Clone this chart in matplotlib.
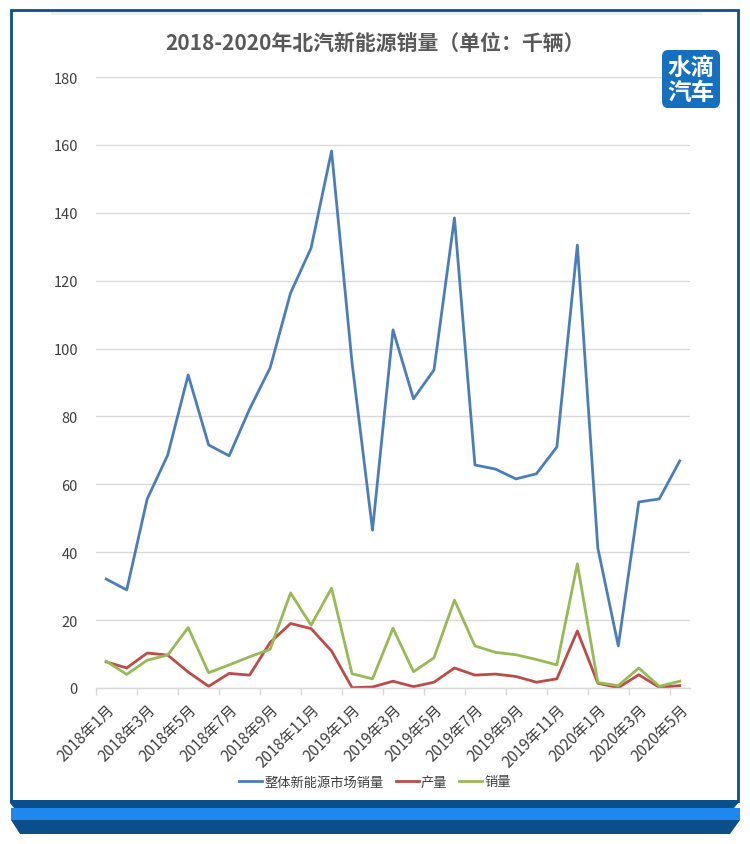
import matplotlib.pyplot as plt
from matplotlib.patches import Polygon, FancyBboxPatch, Rectangle

plt.rcParams['font.family'] = ['Noto Sans CJK SC', 'DejaVu Sans']

months = ['2018年1月', '2018年2月', '2018年3月', '2018年4月', '2018年5月', '2018年6月',
          '2018年7月', '2018年8月', '2018年9月', '2018年10月', '2018年11月', '2018年12月',
          '2019年1月', '2019年2月', '2019年3月', '2019年4月', '2019年5月', '2019年6月',
          '2019年7月', '2019年8月', '2019年9月', '2019年10月', '2019年11月', '2019年12月',
          '2020年1月', '2020年2月', '2020年3月', '2020年4月', '2020年5月']

market = [32.1, 28.9, 55.7, 68.6, 92.2, 71.6, 68.4, 82.2, 94.3, 116.4, 129.6, 158.2,
          95.8, 46.5, 105.5, 85.2, 93.7, 138.5, 65.7, 64.5, 61.6, 63.1, 71.0, 130.5,
          41.2, 12.4, 54.8, 55.7, 66.9]

production = [7.7, 5.9, 10.3, 9.7, 4.7, 0.5, 4.3, 3.8, 13.4, 19.0, 17.5, 10.9,
              0.1, 0.3, 2.0, 0.4, 1.7, 5.9, 3.8, 4.1, 3.4, 1.7, 2.7, 16.8,
              1.4, 0.1, 3.9, 0.2, 0.7]

sales = [7.9, 4.0, 8.2, 9.7, 17.8, 4.5, 6.8, 9.2, 11.4, 28.0, 18.5, 29.4,
         4.2, 2.7, 17.6, 4.8, 8.9, 25.9, 12.4, 10.5, 9.8, 8.4, 6.8, 36.6,
         1.6, 0.7, 5.9, 0.5, 2.0]

W, H = 750, 845


def fx(x):
    return x / W


def fy(y):
    return 1 - y / H


fig = plt.figure(figsize=(7.5, 8.45), dpi=100)

# frame
dark = '#0B4F8A'
bright = '#1E88EE'
fig.add_artist(Rectangle((fx(11), fy(802)), fx(738) - fx(11), fy(11) - fy(802),
                         transform=fig.transFigure, fill=False, edgecolor=dark, linewidth=2))
fig.add_artist(plt.Line2D([fx(52), fx(700)], [fy(13.5), fy(13.5)], transform=fig.transFigure,
                          color='#eeeeee', linewidth=2))
fig.add_artist(Polygon([(fx(10), fy(801)), (fx(739), fy(801)), (fx(739), fy(803)),
                        (fx(734), fy(809)), (fx(14), fy(809)), (fx(10), fy(804))],
                       closed=True, transform=fig.transFigure, facecolor=dark, edgecolor='none'))
fig.add_artist(Polygon([(fx(11), fy(809)), (fx(740), fy(809)), (fx(740), fy(821)), (fx(11), fy(821))],
                       closed=True, transform=fig.transFigure, facecolor=bright, edgecolor='none'))
fig.add_artist(Polygon([(fx(11), fy(821)), (fx(740), fy(821)), (fx(730), fy(835)), (fx(20), fy(835))],
                       closed=True, transform=fig.transFigure, facecolor=dark, edgecolor='none'))

# logo
fig.add_artist(FancyBboxPatch((fx(662), fy(109)), fx(720) - fx(662), fy(51) - fy(109),
                              boxstyle='round,pad=0,rounding_size=0.008', transform=fig.transFigure,
                              facecolor='#1570C0', edgecolor='none'))
fig.text(fx(691), fy(68), '水滴', color='white', fontsize=17, fontweight='bold',
         ha='center', va='center')
fig.text(fx(691), fy(93), '汽车', color='white', fontsize=17, fontweight='bold',
         ha='center', va='center')

fig.text(0.5, fy(43), '2018-2020年北汽新能源销量（单位：千辆）', ha='center', va='center',
         fontsize=15, fontweight='bold', color='#595959')

ax = fig.add_axes([fx(96), fy(689), fx(690) - fx(96), fy(78) - fy(689)])
x = list(range(len(months)))
ax.plot(x, market, color='#4A7EBB', linewidth=2, label='整体新能源市场销量')
ax.plot(x, production, color='#BE4B48', linewidth=2, label='产量')
ax.plot(x, sales, color='#98B954', linewidth=2, label='销量')

ax.set_xlim(-0.5, len(months) - 0.5)
ax.set_ylim(0, 180)
ax.set_yticks(range(0, 181, 20))
ax.grid(axis='y', color='#d9d9d9', linewidth=1)
ax.set_axisbelow(True)
for s in ['top', 'right', 'left']:
    ax.spines[s].set_visible(False)
ax.spines['bottom'].set_color('#d9d9d9')
ax.spines['bottom'].set_linewidth(1)

ax.set_xticks(x[::2])
ax.set_xticklabels(months[::2], rotation=45, ha='right', rotation_mode='anchor',
                   fontsize=11, fontweight='medium', color='#404040')
ax.set_xticks([i - 0.5 for i in range(0, len(months) + 1, 2)], minor=True)
ax.tick_params(axis='x', which='major', length=0, pad=9)
ax.tick_params(axis='x', which='minor', length=5, color='#d9d9d9', width=1)
ax.tick_params(axis='y', length=0, pad=13, labelsize=10.5, labelcolor='#404040')

ax.legend(loc='center', bbox_to_anchor=(0.5, fy(783)), bbox_transform=fig.transFigure, ncol=3,
          frameon=False, fontsize=9.5, labelcolor='#404040', handlelength=1.75,
          handletextpad=0.15, columnspacing=0.9)

fig.savefig('out.png', dpi=100)
